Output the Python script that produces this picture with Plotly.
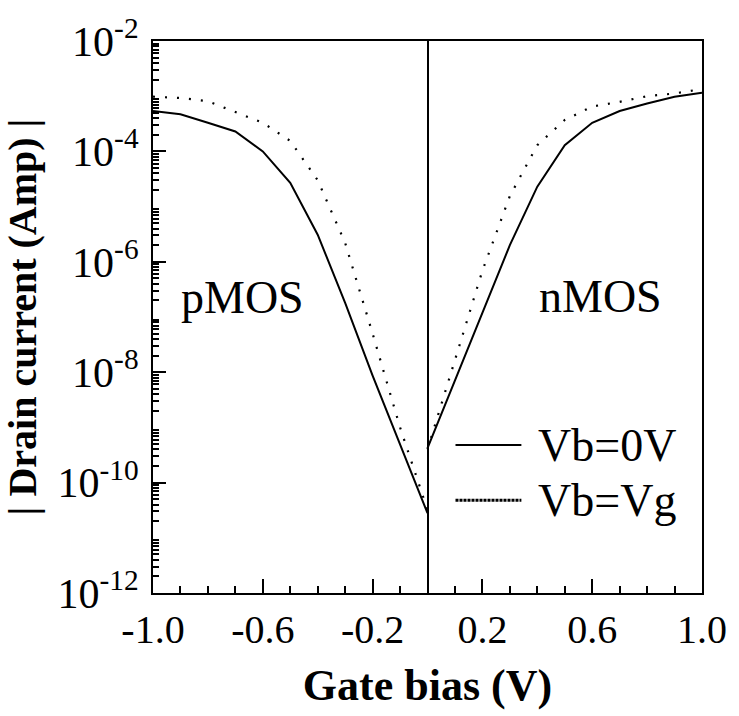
import plotly.graph_objects as go

# ---- data ----
x_pmos = [-1.0, -0.9, -0.8, -0.7, -0.6, -0.5, -0.4, -0.3, -0.2, -0.1, 0.0]
i_pmos_vb0 = [5.4e-4, 4.7e-4, 3.3e-4, 2.3e-4, 1.0e-4, 2.7e-5, 3.1e-6, 1.8e-7, 8.7e-9, 5.0e-10, 2.8e-11]
i_pmos_vbvg = [9.8e-4, 9.3e-4, 8.1e-4, 5.2e-4, 3.3e-4, 1.55e-4, 3.0e-5, 2.2e-6, 5.0e-8, 1.0e-9, 3.2e-11]

x_nmos = [0.0, 0.1, 0.2, 0.3, 0.4, 0.5, 0.6, 0.7, 0.8, 0.9, 1.0]
i_nmos_vb0 = [4.2e-10, 7.1e-9, 1.15e-7, 2.0e-6, 2.3e-5, 1.3e-4, 3.3e-4, 5.4e-4, 7.4e-4, 9.8e-4, 1.15e-3]
i_nmos_vbvg = [4.0e-10, 1.66e-8, 6.9e-7, 1.55e-5, 1.3e-4, 3.7e-4, 6.5e-4, 7.9e-4, 1.0e-3, 1.12e-3, 1.35e-3]

x_tickvals = [-1.0, -0.6, -0.2, 0.2, 0.6, 1.0]
x_ticktext = ["-1.0", "-0.6", "-0.2", "0.2", "0.6", "1.0"]
y_labelled = [-12, -10, -8, -6, -4, -2]
y_unlabelled = [-11, -9, -7, -5, -3]

series_names = ["Vb=0V", "Vb=Vg"]
region_labels = ["pMOS", "nMOS"]

FONT = "Liberation Serif"

y_tickvals = [10.0 ** e for e in y_labelled]
y_ticktext = ["10<sup>%d</sup>" % e for e in y_labelled]
y_odd_ticks = [10.0 ** e for e in y_unlabelled]
y_minor = [k * 10.0 ** e for e in range(-12, -2) for k in range(2, 10)]

solid = dict(color="black", width=2)
dotted = dict(color="black", width=2.2, dash="2px,10px")

fig = go.Figure()
fig.add_trace(go.Scatter(x=x_pmos, y=i_pmos_vb0, mode="lines", line=solid, showlegend=False))
fig.add_trace(go.Scatter(x=x_pmos, y=i_pmos_vbvg, mode="lines", line=dotted, showlegend=False))
fig.add_trace(go.Scatter(x=x_nmos, y=i_nmos_vb0, mode="lines", line=solid, showlegend=False))
fig.add_trace(go.Scatter(x=x_nmos, y=i_nmos_vbvg, mode="lines", line=dotted, showlegend=False))

# manual legend (long line samples as in the reference)
leg_y = [0.268, 0.168]
leg_dash = [None, "3px,1px"]
for name, ly, dsh in zip(series_names, leg_y, leg_dash):
    ln = dict(color="black", width=2 if dsh is None else 3)
    if dsh:
        ln["dash"] = dsh
    fig.add_shape(type="line", xref="paper", yref="paper", x0=0.551, x1=0.671, y0=ly, y1=ly, line=ln)
    fig.add_annotation(xref="paper", yref="paper", x=0.697, y=ly, text=name, showarrow=False,
                       xanchor="left", yanchor="middle", font=dict(family=FONT, size=46, color="black"))

fig.add_annotation(xref="paper", yref="paper", x=0.163, y=0.535, text=region_labels[0], showarrow=False,
                   xanchor="center", yanchor="middle", font=dict(family=FONT, size=46, color="black"))
fig.add_annotation(xref="paper", yref="paper", x=0.815, y=0.537, text=region_labels[1], showarrow=False,
                   xanchor="center", yanchor="middle", font=dict(family=FONT, size=46, color="black"))

fig.update_layout(
    width=739, height=716,
    margin=dict(l=153, r=29, t=34, b=123, pad=0),
    paper_bgcolor="white", plot_bgcolor="white",
    font=dict(family=FONT, color="black"),
    showlegend=False,
    yaxis2=dict(
        type="log", range=[-12, -2], overlaying="y", anchor="x", side="left",
        tickmode="array", tickvals=y_odd_ticks, showticklabels=False,
        ticks="inside", ticklen=13, tickwidth=2, tickcolor="black",
        showline=False, showgrid=False, zeroline=False,
    ),
)
fig.update_xaxes(
    range=[-1, 1],
    tickvals=x_tickvals, ticktext=x_ticktext,
    ticks="inside", ticklen=14, tickwidth=2, tickcolor="black",
    minor=dict(dtick=0.1, tick0=0, ticks="inside", ticklen=7, tickwidth=2, tickcolor="black", showgrid=False),
    showline=True, linewidth=2, linecolor="black", mirror=True,
    showgrid=False,
    zeroline=True, zerolinewidth=2, zerolinecolor="black",
    tickfont=dict(family=FONT, size=40, color="black"),
    ticklabelstandoff=0,
    title=dict(text="Gate bias (V)", font=dict(family=FONT, size=44, color="black", weight="bold"), standoff=18),
)
fig.update_yaxes(
    type="log", range=[-12, -2],
    tickvals=y_tickvals, ticktext=y_ticktext,
    ticks="inside", ticklen=13, tickwidth=2, tickcolor="black",
    minor=dict(tickvals=y_minor, ticks="inside", ticklen=6, tickwidth=1.5, tickcolor="black", showgrid=False),
    showline=True, linewidth=2, linecolor="black", mirror=True,
    showgrid=False, zeroline=False,
    tickfont=dict(family=FONT, size=42, color="black"),
    ticklabelstandoff=4,
    title=dict(text="| Drain current (Amp) |", font=dict(family=FONT, size=40, color="black", weight="bold"), standoff=10),
    selector=dict(),
    row=None, col=None,
)
fig.layout.yaxis2.update(minor=dict(ticks=""))

fig.write_html("out.html")
